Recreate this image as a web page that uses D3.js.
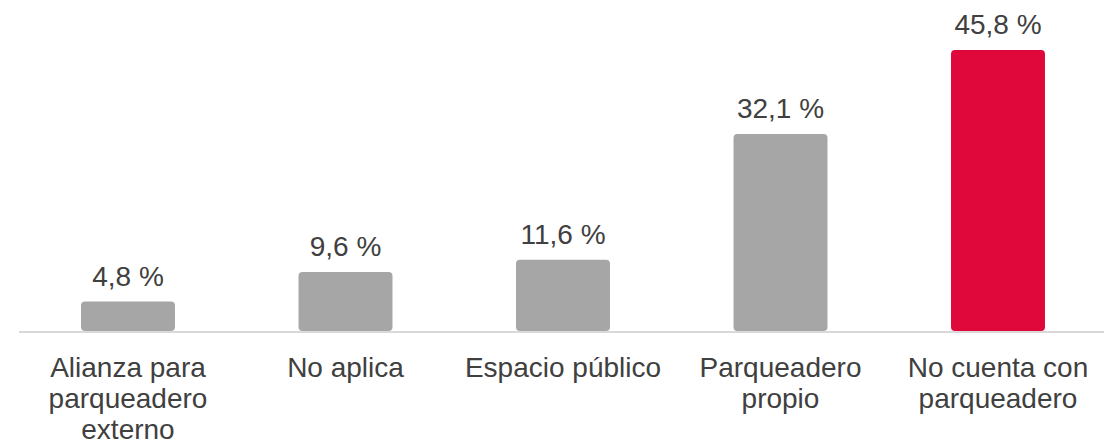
<!DOCTYPE html>
<html>
<head>
<meta charset="utf-8">
<script src="https://cdn.jsdelivr.net/npm/d3@7"></script>
<style>
  body { margin: 0; background: #fff; }
  text { font-family: "Liberation Sans", Arial, sans-serif; }
</style>
</head>
<body>
<svg width="1104" height="445"></svg>
<script>
// categorias (lineas de cada etiqueta) y porcentajes
var categorias = [
  ["Alianza para", "parqueadero", "externo"],
  ["No aplica"],
  ["Espacio público"],
  ["Parqueadero", "propio"],
  ["No cuenta con", "parqueadero"]
];
var valores = [4.8, 9.6, 11.6, 32.1, 45.8];
var etiquetas = ["4,8 %", "9,6 %", "11,6 %", "32,1 %", "45,8 %"];

var data = valores.map(function(v, i) {
  return { id: i, lineas: categorias[i], valor: v, etiqueta: etiquetas[i] };
});

var svg = d3.select("svg"),
    baseY = 331;

var x = d3.scaleBand()
  .domain(data.map(function(d) { return d.id; }))
  .range([19.25, 1106.75])
  .paddingInner(0.568)
  .paddingOuter(0.284);

var y = d3.scaleLinear()
  .domain([0, 45.8])
  .range([baseY, 50]);

// linea base
svg.append("line")
  .attr("x1", 19).attr("x2", 1104)
  .attr("y1", baseY + 1).attr("y2", baseY + 1)
  .attr("stroke", "#d9d9d9")
  .attr("stroke-width", 2);

svg.append("g")
  .selectAll("rect")
  .data(data)
  .enter().append("rect")
    .attr("x", function(d) { return x(d.id); })
    .attr("y", function(d) { return y(d.valor); })
    .attr("width", x.bandwidth())
    .attr("height", function(d) { return baseY - y(d.valor); })
    .attr("rx", 4)
    .attr("fill", function(d, i) { return i === data.length - 1 ? "#e0073a" : "#a6a6a6"; });

svg.append("g")
  .selectAll("text")
  .data(data)
  .enter().append("text")
    .attr("x", function(d) { return x(d.id) + x.bandwidth() / 2; })
    .attr("y", function(d) { return y(d.valor) - 16; })
    .attr("text-anchor", "middle")
    .attr("font-size", 28)
    .attr("fill", "#404040")
    .text(function(d) { return d.etiqueta; });

var cat = svg.append("g")
  .selectAll("text")
  .data(data)
  .enter().append("text")
    .attr("text-anchor", "middle")
    .attr("font-size", 28)
    .attr("fill", "#404040");

cat.selectAll("tspan")
  .data(function(d) {
    return d.lineas.map(function(l) { return { l: l, cx: x(d.id) + x.bandwidth() / 2 }; });
  })
  .enter().append("tspan")
    .attr("x", function(t) { return t.cx; })
    .attr("y", function(t, i) { return 377 + i * 31; })
    .text(function(t) { return t.l; });
</script>
</body>
</html>
